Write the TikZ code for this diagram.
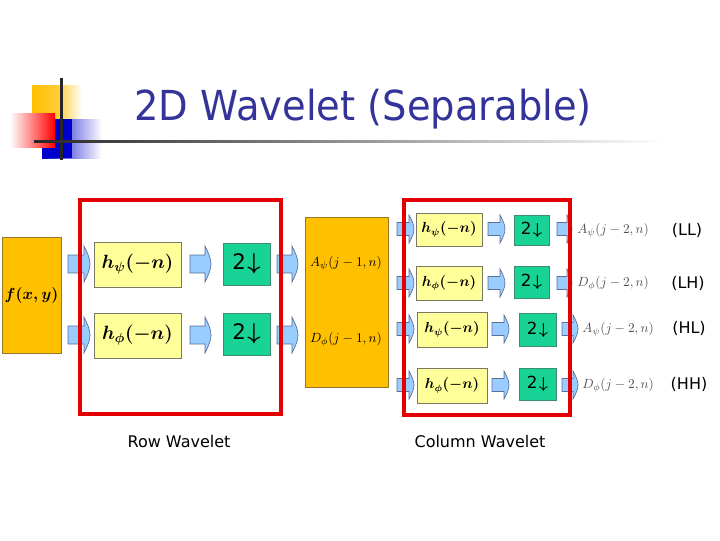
\documentclass[tikz,border=0pt]{standalone}
\usepackage{fontspec}
\usepackage{amsmath}
\setmainfont{DejaVu Sans}
\usetikzlibrary{fit}
\definecolor{orangebox}{RGB}{255,192,0}
\definecolor{orangeedge}{RGB}{150,120,40}
\definecolor{ylw}{RGB}{255,255,153}
\definecolor{ylwedge}{RGB}{120,120,100}
\definecolor{tealbox}{RGB}{25,210,150}
\definecolor{tealedge}{RGB}{60,140,110}
\definecolor{arrfill}{RGB}{153,204,255}
\definecolor{arredge}{RGB}{90,110,150}
\definecolor{redline}{RGB}{228,0,0}
\definecolor{titleblue}{RGB}{51,51,153}
\definecolor{outgray}{RGB}{80,80,80}
\newcommand\blkarr[6]{%
  \pgfmathsetmacro\bxa{#2+0.6*(#3-#2)}%
  \pgfmathsetmacro\bya{#4-0.6*#6}%
  \pgfmathsetmacro\byb{#4-0.3*#6}%
  \pgfmathsetmacro\byc{#4+0.3*#6}%
  \pgfmathsetmacro\byd{#4+0.6*#6}%
  \pgfmathsetmacro\bys{#4-#5}%
  \pgfmathsetmacro\byt{#4+#5}%
  \pgfmathsetmacro\byh{#4-#6}%
  \pgfmathsetmacro\byk{#4+#6}%
  \filldraw[barrow] (#1,\bys) -- (#2,\bys) -- (#2,\byh)
    .. controls (\bxa,\bya) and (#3,\byb) .. (#3,#4)
    .. controls (#3,\byc) and (\bxa,\byd) .. (#2,\byk)
    -- (#2,\byt) -- (#1,\byt) -- cycle;}
\tikzset{
  barrow/.style={fill=arrfill, draw=arredge, line width=0.5pt},
  obox/.style={fill=orangebox, draw=orangeedge, line width=0.5pt, inner sep=0pt},
  hbox/.style={fill=ylw, draw=ylwedge, line width=0.5pt, inner sep=0pt},
  dbox/.style={fill=tealbox, draw=tealedge, line width=0.5pt, inner sep=0pt},
  redbox/.style={draw=redline, line width=3pt, inner sep=0pt},
  bigh/.style={font=\fontsize{14}{14}\selectfont\boldmath, inner sep=0pt},
  smallh/.style={font=\fontsize{10.5}{10.5}\selectfont\boldmath, inner sep=0pt},
  bigd/.style={font=\fontsize{16}{16}\selectfont, inner sep=0pt},
  smalld/.style={font=\fontsize{12.5}{12.5}\selectfont, inner sep=0pt},
  midlbl/.style={font=\fontsize{10}{10}\selectfont, inner sep=0pt},
  outlbl/.style={font=\fontsize{10}{10}\selectfont, text=outgray, inner sep=0pt, anchor=west},
  tag/.style={font=\fontsize{12}{12}\selectfont, inner sep=0pt},
  caption/.style={font=\fontsize{12}{12}\selectfont, inner sep=0pt}
}
\newcommand\dtwo{2\hspace{1pt}$\boldsymbol{\downarrow}$}
\begin{document}
\begin{tikzpicture}[x=0.75pt, y=-0.75pt]
\useasboundingbox (0,0) rectangle (720,540);
% title decoration
\shade[left color=orangebox, right color=white, middle color=orangebox!80] (32,85) rectangle (82,118);
\shade[left color=blue!80!black, right color=white] (42,119) rectangle (102,158);
\fill[blue!80!black] (42,119) rectangle (72,158);
\shade[left color=white, right color=red] (10,113) rectangle (55,147);
\fill[black!85] (60,78) rectangle (62.5,160);
\shade[left color=black!85, right color=white] (34,140) rectangle (665,142.5);
\node[font=\fontsize{31}{31}\selectfont, text=titleblue, anchor=base, inner sep=0pt] (title) at (363,120) {\scalebox{0.93}[1]{2D Wavelet (Separable)}};

% row stage
\node[obox, fit={(2,237) (61,353)}] (f) {};
\node[font=\fontsize{13}{13}\selectfont\boldmath, inner sep=0pt] (flbl) at (f.center) {$f(x,y)$};
\node[hbox, fit={(94,242) (181,287)}] (h1) {};
\node[bigh] (h1t) at (h1.center) {$h_\psi(-n)$};
\node[hbox, fit={(94,313) (181,358)}] (h2) {};
\node[bigh] (h2t) at (h2.center) {$h_\phi(-n)$};
\node[dbox, fit={(223,243) (270,285)}] (d1) {};
\node[bigd] (d1t) at (d1.center) {\dtwo};
\node[dbox, fit={(223,313) (270,355)}] (d2) {};
\node[bigd] (d2t) at (d2.center) {\dtwo};
\foreach \yy in {264,335}{
  \blkarr{68}{84}{90}{\yy}{9}{18}
  \blkarr{190}{205}{211}{\yy}{9}{18}
  \blkarr{277}{292}{298}{\yy}{9}{18}
}
% middle
\node[obox, fit={(305,217) (388,387)}] (mid) {};
\node[midlbl] (a1) at (346,263) {$A_\psi(j-1,n)$};
\node[midlbl] (dd1) at (346,339) {$D_\phi(j-1,n)$};

% column stage
\foreach \yy in {229,283}{
  \blkarr{397}{409}{414}{\yy}{6.5}{14}
  \blkarr{488}{500}{505}{\yy}{6.5}{14}
  \blkarr{557}{567}{572}{\yy}{6.5}{14}
}
\foreach \yy in {329,385}{
  \blkarr{397}{409}{414}{\yy}{6.5}{14}
  \blkarr{492}{504}{509}{\yy}{6.5}{14}
  \blkarr{562}{573}{578}{\yy}{6.5}{14}
}
\node[hbox, fit={(416,213) (482,246)}] (c1) {};
\node[smallh] (c1t) at (c1.center) {$h_\psi(-n)$};
\node[hbox, fit={(416,266) (482,300)}] (c2) {};
\node[smallh] (c2t) at (c2.center) {$h_\phi(-n)$};
\node[hbox, fit={(417,312) (487,347)}] (c3) {};
\node[smallh] (c3t) at (c3.center) {$h_\psi(-n)$};
\node[hbox, fit={(417,368) (487,403)}] (c4) {};
\node[smallh] (c4t) at (c4.center) {$h_\phi(-n)$};
\node[dbox, fit={(514,215) (549,245)}] (e1) {};
\node[smalld] (e1t) at (e1.center) {\dtwo};
\node[dbox, fit={(514,266) (549,298)}] (e2) {};
\node[smalld] (e2t) at (e2.center) {\dtwo};
\node[dbox, fit={(519,313) (556,346)}] (e3) {};
\node[smalld] (e3t) at (e3.center) {\dtwo};
\node[dbox, fit={(519,368) (556,400)}] (e4) {};
\node[smalld] (e4t) at (e4.center) {\dtwo};

\node[outlbl] (o1) at (577,230) {$A_\psi(j-2,n)$};
\node[outlbl] (o2) at (577,283) {$D_\phi(j-2,n)$};
\node[outlbl] (o3) at (582,329) {$A_\psi(j-2,n)$};
\node[outlbl] (o4) at (582,385) {$D_\phi(j-2,n)$};
\node[tag] (t1) at (687,230) {(LL)};
\node[tag] (t2) at (688,283) {(LH)};
\node[tag] (t3) at (689,328) {(HL)};
\node[tag] (t4) at (689,384) {(HH)};

% red frames
\node[redbox, fit={(79.5,199.5) (281,414)}] (rowframe) {};
\node[redbox, fit={(403.5,199.5) (570,414.5)}] (colframe) {};
\node[caption] (rowcap) at (179,442) {Row Wavelet};
\node[caption] (colcap) at (480,442) {Column Wavelet};
\end{tikzpicture}
\end{document}
